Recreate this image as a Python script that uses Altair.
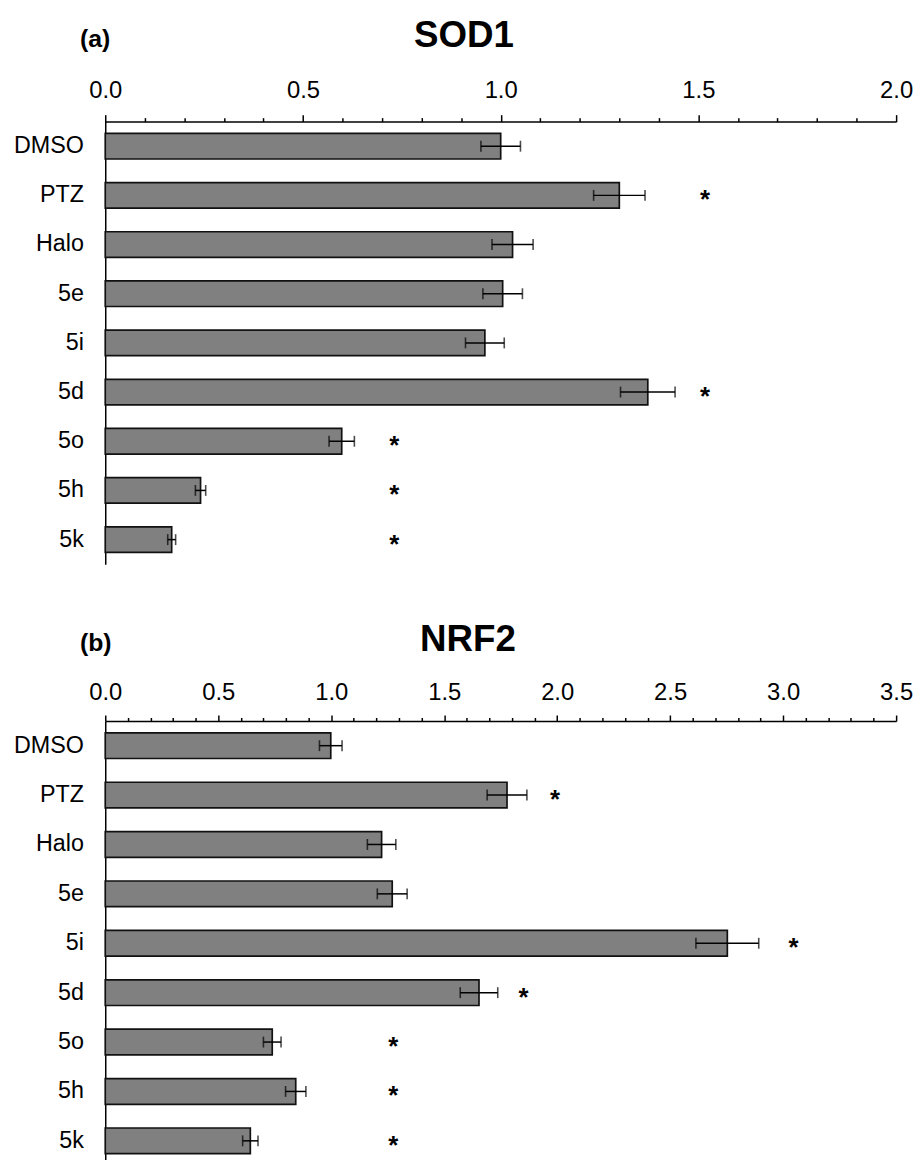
import altair as alt
import pandas as pd

FONT = "Liberation Sans"

categories = ["DMSO", "PTZ", "Halo", "5e", "5i", "5d", "5o", "5h", "5k"]

sod1_mean = [1.00, 1.30, 1.03, 1.005, 0.96, 1.372, 0.598, 0.241, 0.168]
sod1_err = [0.05, 0.065, 0.052, 0.05, 0.049, 0.069, 0.032, 0.013, 0.010]
sod1_star = [None, 1.517, None, None, None, 1.517, 0.731, 0.731, 0.731]
sod1_ticks = [round(0.1 * i, 1) for i in range(21)]

nrf2_mean = [0.998, 1.778, 1.223, 1.27, 2.753, 1.654, 0.739, 0.843, 0.642]
nrf2_err = [0.05, 0.088, 0.063, 0.066, 0.139, 0.083, 0.039, 0.045, 0.034]
nrf2_star = [None, 1.99, None, None, 3.046, 1.851, 1.275, 1.275, 1.275]
nrf2_ticks = [round(0.1 * i, 1) for i in range(36)]

MAJOR = "abs(datum.value * 2 - round(datum.value * 2)) < 0.001"


def panel(title, tag, mean, err, stars, xmax, ticks, height,
          title_x, title_y, tag_y, major_len, minor_len, lab_pad):
    df = pd.DataFrame({
        "cat": categories,
        "mean": mean,
        "low": [m - e for m, e in zip(mean, err)],
        "high": [m + e for m, e in zip(mean, err)],
    })
    sdf = pd.DataFrame({
        "cat": [c for c, s in zip(categories, stars) if s is not None],
        "pos": [s for s in stars if s is not None],
    })
    xs = alt.Scale(domain=[0, xmax], nice=False, zero=True)
    ys = alt.Scale(domain=categories, paddingInner=0.48, paddingOuter=0.24)

    x_axis = alt.Axis(
        orient="top", values=ticks,
        labelExpr=f"{MAJOR} ? format(datum.value, '.1f') : ''",
        tickSize={"condition": {"test": MAJOR, "value": major_len}, "value": minor_len},
        labelFlush=False, labelOverlap=False, grid=False,
        domainColor="black", domainWidth=1.5, tickColor="black", tickWidth=1.5,
        labelFont=FONT, labelFontSize=24, labelColor="black", labelPadding=lab_pad,
        title=title, titleFont=FONT, titleFontSize=37, titleFontWeight="bold",
        titleColor="black", titleX=title_x, titleY=title_y,
        titleAlign="center", titleBaseline="alphabetic",
    )
    y_axis = alt.Axis(
        title=tag, titleAngle=0, titleX=-26, titleY=tag_y, titleAlign="left",
        titleBaseline="alphabetic", titleFont=FONT, titleFontSize=25,
        titleFontWeight="bold", titleColor="black",
        ticks=False, tickSize=0, labelPadding=22, labelFont=FONT,
        labelFontSize=23.5, labelColor="black", grid=False,
        domainColor="black", domainWidth=1.5,
    )

    def X(f):
        return alt.X(f, scale=xs, axis=x_axis, title=title)

    Y = alt.Y("cat:N", scale=ys, sort=categories, axis=y_axis, title=tag)

    base = alt.Chart(df)
    bars = base.mark_bar(fill="#808080", stroke="#111111", strokeWidth=1.7).encode(
        x=X("mean:Q"), y=Y,
    )
    rule = base.mark_rule(color="black", strokeWidth=1.5).encode(
        x=X("low:Q"), x2="high:Q", y=Y,
    )
    cap_lo = base.mark_tick(color="black", thickness=1.6, size=11).encode(
        x=X("low:Q"), y=Y,
    )
    cap_hi = base.mark_tick(color="black", thickness=1.6, size=11).encode(
        x=X("high:Q"), y=Y,
    )
    star = alt.Chart(sdf).mark_text(
        text="*", font=FONT, fontSize=26, fontWeight="bold", color="black",
        baseline="alphabetic", align="center", dy=13,
    ).encode(
        x=X("pos:Q"), y=Y,
    )
    return alt.layer(bars, rule, cap_lo, cap_hi, star).properties(width=797, height=height)


a = panel("SOD1", "(a)", sod1_mean, sod1_err, sod1_star, 2.0, sod1_ticks, 446,
          361, -76, -76, 7, 4, 12)
b = panel("NRF2", "(b)", nrf2_mean, nrf2_err, nrf2_star, 3.5, nrf2_ticks, 448,
          365, -71, -71, 6, 3.5, 11)

chart = alt.vconcat(a, b, spacing=57).configure_view(stroke=None).properties(
    padding={"left": 5, "top": 4, "right": 0, "bottom": 0}
)

chart.save("out.html", embed_options={"renderer": "svg", "actions": False})
